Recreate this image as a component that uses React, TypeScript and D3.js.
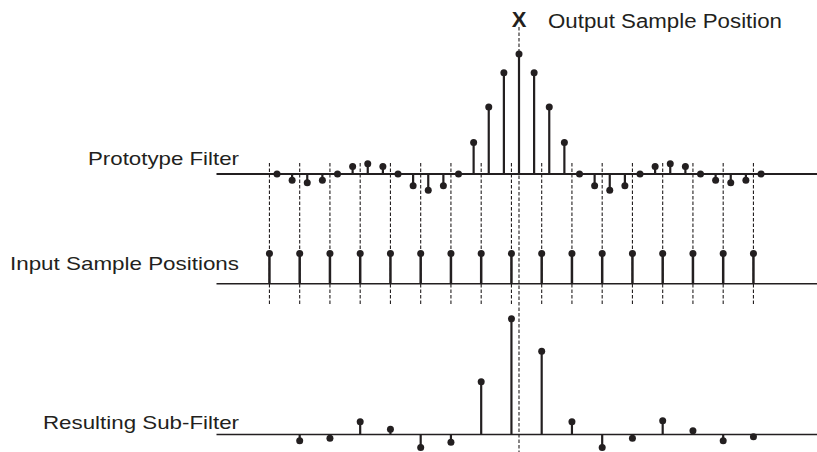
import { useEffect, useRef } from 'react';
import * as d3 from 'd3';

// prototype filter taps, normalised to the centre tap
const protoTaps = [
  0, -0.052, -0.072, -0.052, 0, 0.062, 0.086, 0.062, 0, -0.098, -0.135, -0.098, 0,
  0.263, 0.558, 0.843, 1,
  0.843, 0.558, 0.263, 0, -0.098, -0.135, -0.098, 0, 0.062, 0.086, 0.062, 0,
  -0.052, -0.072, -0.052, 0
];

// input sample positions, in units of prototype tap index
const inputPos = [-0.5, 1.5, 3.5, 5.5, 7.5, 9.5, 11.5, 13.5, 15.5, 17.5, 19.5, 21.5, 23.5, 25.5, 27.5, 29.5, 31.5];

// resulting sub-filter value at each input position (none at the first)
const subFilter = [
  null, -0.053, -0.031, 0.106, 0.044, -0.108, -0.064, 0.44, 0.964,
  0.694, 0.106, -0.108, -0.031, 0.114, 0.031, -0.053, -0.019
];

const outputPos = 16;

const labels = [
  { text: 'Prototype Filter', x: 88, y: 165, len: 151 },
  { text: 'Input Sample Positions', x: 10, y: 270, len: 229 },
  { text: 'Resulting Sub-Filter', x: 43, y: 429, len: 196 }
];

const INK = '#231f20';
const FONT = '"Liberation Sans", Arial, Helvetica, sans-serif';

const App = () => {
  const svgRef = useRef(null);

  useEffect(() => {
    const svg = d3.select(svgRef.current);
    svg.selectAll('*').remove();

    const x = d3.scaleLinear().domain([0, 32]).range([277, 761]);
    const yProto = d3.scaleLinear().domain([0, 1]).range([174, 54]);
    const yInput = d3.scaleLinear().domain([0, 1]).range([283.7, 253.5]);
    const ySub = d3.scaleLinear().domain([0, 1]).range([434.5, 314.5]);

    // dashed guides through the input positions
    svg.append('g')
      .selectAll('line')
      .data(inputPos)
      .enter()
      .append('line')
      .attr('x1', d => x(d))
      .attr('x2', d => x(d))
      .attr('y1', 163)
      .attr('y2', 306)
      .attr('stroke', INK)
      .attr('stroke-width', 1.1)
      .attr('stroke-dasharray', '3.5,2');

    // output sample position guide
    svg.append('line')
      .attr('x1', x(outputPos))
      .attr('x2', x(outputPos))
      .attr('y1', 27)
      .attr('y2', 452)
      .attr('stroke', INK)
      .attr('stroke-width', 1.1)
      .attr('stroke-dasharray', '3.5,2');

    // baselines
    const baselines = [
      { y: yProto(0), w: 2.2 },
      { y: yInput(0), w: 1.6 },
      { y: ySub(0), w: 1.6 }
    ];
    svg.append('g')
      .selectAll('line')
      .data(baselines)
      .enter()
      .append('line')
      .attr('x1', 216.5)
      .attr('x2', 817)
      .attr('y1', d => d.y)
      .attr('y2', d => d.y)
      .attr('stroke', INK)
      .attr('stroke-width', d => d.w);

    const stems = (pts, yScale, width) => {
      const g = svg.append('g');
      g.selectAll('line')
        .data(pts)
        .enter()
        .append('line')
        .attr('x1', d => d.x)
        .attr('x2', d => d.x)
        .attr('y1', yScale(0))
        .attr('y2', d => yScale(d.v))
        .attr('stroke', INK)
        .attr('stroke-width', width);
      g.selectAll('circle')
        .data(pts)
        .enter()
        .append('circle')
        .attr('cx', d => d.x)
        .attr('cy', d => yScale(d.v))
        .attr('r', 3.5)
        .attr('fill', INK);
    };

    stems(protoTaps.map((v, i) => ({ x: x(i), v })), yProto, 2.2);
    stems(inputPos.map(p => ({ x: x(p), v: 1 })), yInput, 2.5);
    stems(
      inputPos
        .map((p, i) => ({ x: x(p), v: subFilter[i] }))
        .filter(d => d.v !== null),
      ySub,
      2.2
    );

    // row labels
    svg.append('g')
      .selectAll('text')
      .data(labels)
      .enter()
      .append('text')
      .attr('x', d => d.x)
      .attr('y', d => d.y)
      .attr('font-family', FONT)
      .attr('font-size', '18.5px')
      .attr('fill', INK)
      .attr('textLength', d => d.len)
      .attr('lengthAdjust', 'spacingAndGlyphs')
      .text(d => d.text);

    svg.append('text')
      .attr('x', x(outputPos))
      .attr('y', 27)
      .attr('text-anchor', 'middle')
      .attr('font-family', FONT)
      .attr('font-weight', 'bold')
      .attr('font-size', '22px')
      .attr('fill', INK)
      .text('X');

    svg.append('text')
      .attr('x', 548)
      .attr('y', 28)
      .attr('font-family', FONT)
      .attr('font-size', '19.5px')
      .attr('fill', INK)
      .attr('textLength', 234)
      .attr('lengthAdjust', 'spacingAndGlyphs')
      .text('Output Sample Position');
  }, []);

  return (
    <svg
      ref={svgRef}
      width={817}
      height={452}
      style={{ position: 'absolute', left: 0, top: 0, background: '#fff' }}
    />
  );
};

export default App;
